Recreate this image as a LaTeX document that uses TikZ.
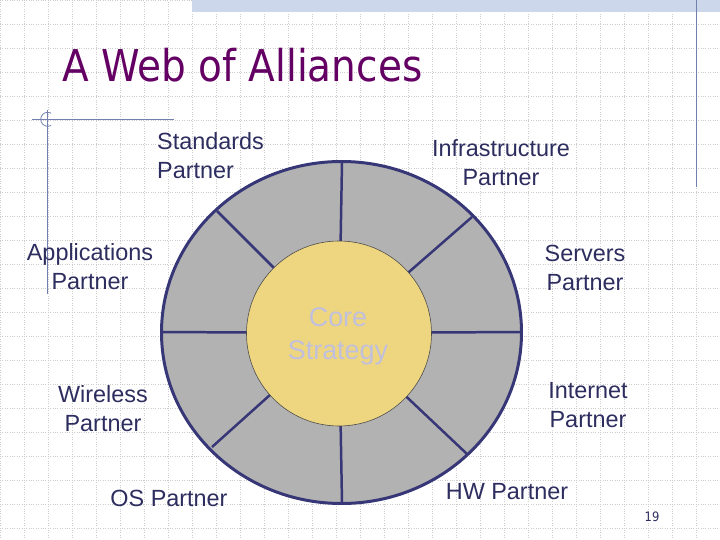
\documentclass[tikz,border=0pt]{standalone}
\usepackage{fontspec}
\setmainfont{Liberation Sans}
\newfontfamily\titlefont[FakeStretch=0.89]{DejaVu Sans}

\definecolor{ringgray}{RGB}{178, 178, 178}
\definecolor{ringline}{RGB}{55, 55, 120}
\definecolor{coreyellow}{RGB}{238, 214, 128}
\definecolor{coretext}{RGB}{192, 192, 222}
\definecolor{labeltext}{RGB}{45, 45, 95}
\definecolor{titlepurple}{RGB}{100, 0, 100}
\definecolor{deco}{RGB}{115, 128, 175}
\definecolor{bandblue}{RGB}{204, 215, 236}
\definecolor{gridgray}{RGB}{205, 205, 205}

\tikzset{
	partner/.style={text=labeltext, inner sep=0pt, align=center, font=\fontsize{23.5}{29}\selectfont},
	spoke/.style={draw=ringline, line width=2.5pt},
}

\begin{document}
\begin{tikzpicture}[x=1bp, y=-1bp] % Koordinaten in Pixeln der Folie
		
		% Hintergrund mit Punktraster
		\fill[white] (0,0) rectangle (720,540);
		\useasboundingbox (0,0) rectangle (720,540);
		\draw[step=24bp, gridgray, dotted, thin] (0,0) grid (720,540);
		
		% Folien-Deko (Balken oben, Linien)
		\fill[bandblue] (192,0) rectangle (720,12);
		\draw[deco, line width=1.2pt] (696.7,0) -- (696.7,187);
		\draw[deco, line width=1pt] (32,119.3) -- (174,119.3);
		\draw[deco, line width=1pt] (47.7,110) -- (47.7,294);
		\begin{scope}
			\clip (38,108) rectangle (51,131);
			\draw[deco, line width=0.8pt] (47.7,119.3) circle [radius=7];
		\end{scope}
		
		% Titel
		\node[text=titlepurple, anchor=base west, inner sep=0pt, font=\titlefont\fontsize{44}{48}\selectfont] (title) at (62,81.7) {A Web of Alliances};
		
		% Aeusserer Ring
		\fill[ringgray] (341.5,332.5) ellipse [x radius=180, y radius=171];
		
		% Speichen zwischen den Partnern
		\foreach \x/\y in {342/162, 472/217, 522/332, 467/454, 342/503, 212/447, 162/332, 217/211} {
			\draw[spoke] (339,333) -- (\x,\y);
		}
		\draw[ringline, line width=3pt] (341.5,332.5) ellipse [x radius=180, y radius=171];
		
		% Kern
		\node[circle, fill=coreyellow, draw=black!70, line width=0.6pt, minimum size=185bp, inner sep=0pt] (core) at (339,333.5) {};
		\node[text=coretext, inner sep=0pt, align=center, font=\fontsize{27}{32.7}\selectfont] (coretxt) at (338,336.5) {Core\\Strategy};
		
		% Partner-Beschriftungen
		\node[partner, align=left, anchor=west] (standards) at (157,156) {Standards\\Partner};
		\node[partner] (infra) at (501,162.5) {Infrastructure\\Partner};
		\node[partner] (apps) at (90,266.5) {Applications\\Partner};
		\node[partner] (servers) at (585,267.5) {Servers\\Partner};
		\node[partner] (wireless) at (103,408.5) {Wireless\\Partner};
		\node[partner] (internet) at (588,405.5) {Internet\\Partner};
		\node[partner] (os) at (169,498) {OS Partner};
		\node[partner] (hw) at (507,492) {HW Partner};
		
		% Seitenzahl
		\node[text=labeltext, inner sep=0pt, font=\titlefont\fontsize{13}{15}\selectfont] (pagenum) at (652,517) {19};
		
	\end{tikzpicture}
\end{document}
